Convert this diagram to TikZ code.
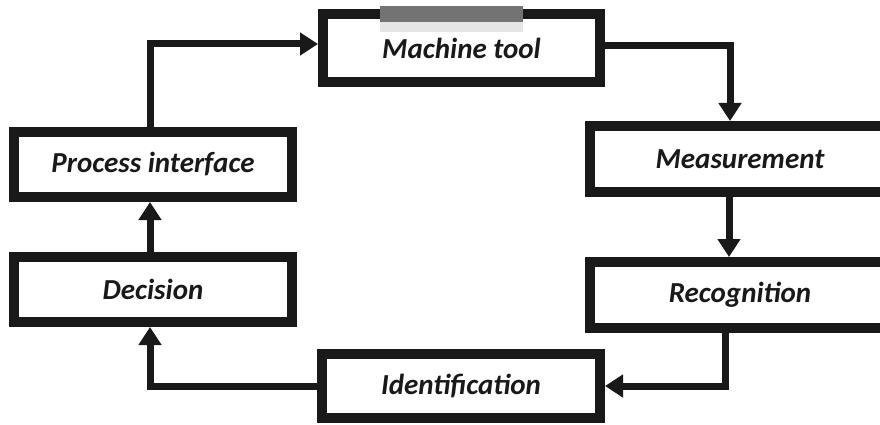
\documentclass[tikz,border=0pt]{standalone}
\usepackage{fontspec}
\setmainfont{Carlito}
\usetikzlibrary{arrows.meta}

\begin{document}
\begin{tikzpicture}[x=1pt, y=-1pt,
  stage/.style={draw=black!90, line width=10pt, fill=white, inner sep=0pt,
    minimum width=278pt, minimum height=65pt,
    font=\fontsize{29}{31}\selectfont\bfseries\itshape, text=black!90},
  flow/.style={draw=black!90, line width=7pt,
    -{Triangle[length=18pt, width=22pt]}}]

\path[use as bounding box] (0,0) rectangle (880,425);
\clip (0,0) rectangle (880,425);
\fill[white] (0,0) rectangle (880,425);

% process stages
\node[stage, minimum width=277pt, minimum height=68pt] (mt)    at (461.5,48)  {Machine tool};
\node[stage, minimum width=300pt, minimum height=66pt] (meas)  at (740,159)   {Measurement};
\node[stage, minimum width=300pt, minimum height=66pt] (rec)   at (740,295)   {Recognition};
\node[stage, minimum height=64pt] (ident) at (461,386)   {Identification};
\node[stage] (dec)   at (153,289.5) {Decision};
\node[stage] (proc)  at (153,164.5) {Process interface};

% feedback loop
\draw[flow] ([xshift=-3pt]proc.north) |- ([yshift=4pt]mt.west);
\draw[flow] ([yshift=2pt]mt.east) -| ([xshift=-10pt]meas.north);
\draw[flow] ([xshift=-11pt]meas.south) -- ([xshift=-11pt]rec.north);
\draw[flow] ([xshift=-15pt]rec.south) |- (ident.east);
\draw[flow] (ident.west) -| ([xshift=-3pt]dec.south);
\draw[flow] ([xshift=-3pt]dec.north) -- ([xshift=-3pt]proc.south);

% grey band across the top edge of the machine tool stage
\fill[black!55] (380,6) rectangle (523,22);
\fill[black!10] (380,22) rectangle (523,32);
\end{tikzpicture}
\end{document}
